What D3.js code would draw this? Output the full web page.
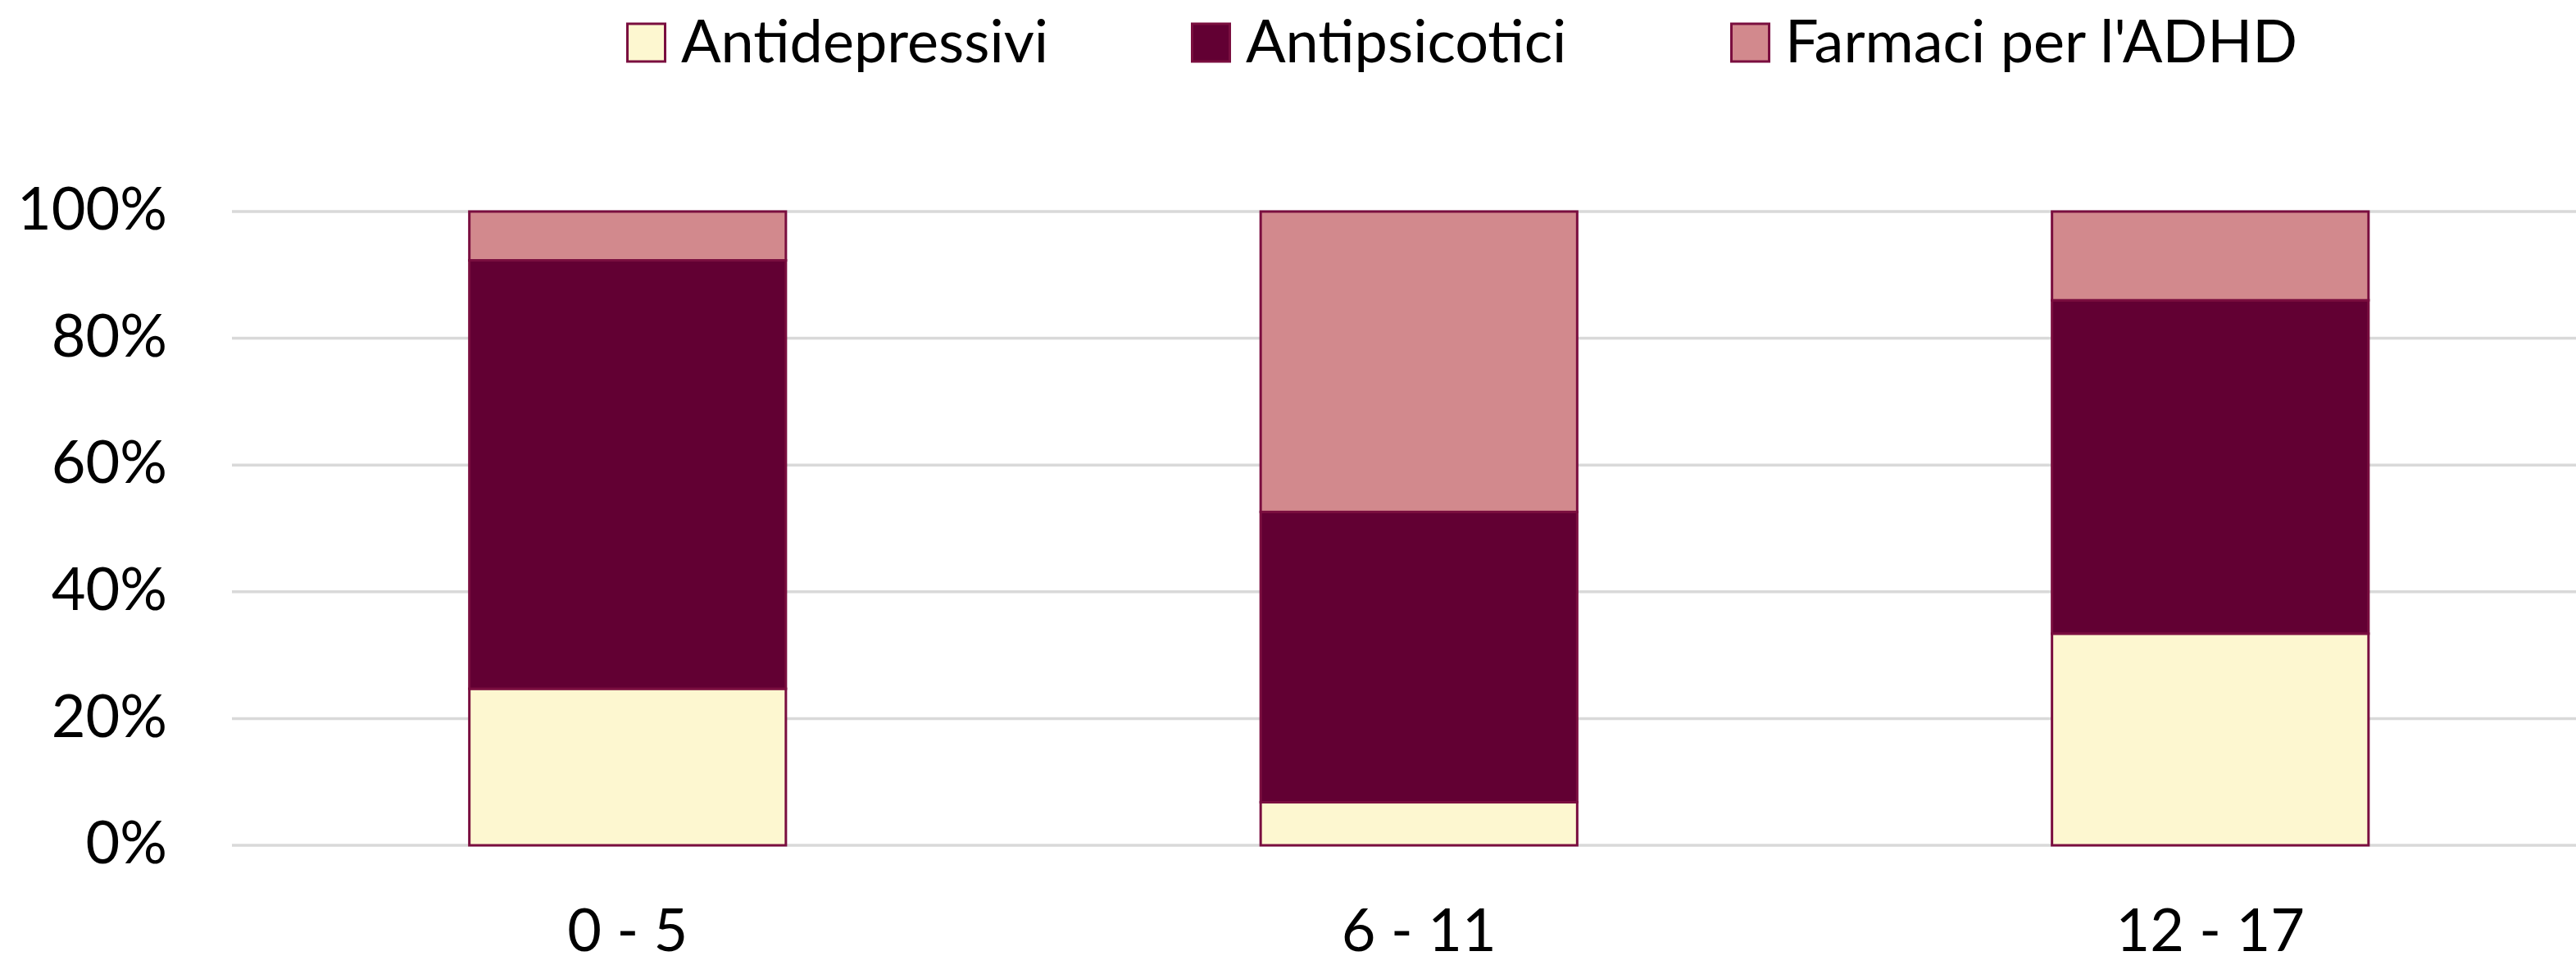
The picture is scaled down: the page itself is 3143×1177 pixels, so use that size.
<!DOCTYPE html>
<html>
<head>
<meta charset="utf-8">
<script src="https://cdn.jsdelivr.net/npm/d3@7"></script>
<style>
  body { margin: 0; background: #fff; }
  text { font-family: Lato, "Open Sans", sans-serif; fill: #000; }
</style>
</head>
<body>
<div id="chart-area"></div>
<script>
/*
*    stacked 100% bars - farmaci per fascia d'età
*/

var categories = ["0 - 5", "6 - 11", "12 - 17"];
var seriesNames = ["Antidepressivi", "Antipsicotici", "Farmaci per l'ADHD"];
var antidepressivi = [24.7, 6.8, 33.4];
var antipsicotici = [67.6, 45.8, 52.6];
var farmaciADHD = [7.7, 47.4, 14.0];
var yTicks = [0, 20, 40, 60, 80, 100];

var colors = ["#FDF7D0", "#620033", "#D2898D"];
var strokeColor = "#7A0E3F";

var width = 3143;
var height = 1177;
var margin = {top: 258, left: 283, bottom: 146};
var step = 965.5;
var plotHeight = height - margin.top - margin.bottom;

var svg = d3.select("#chart-area").append("svg").attr("width", width).attr("height", height);

// table built from the arrays for d3.stack
var table = categories.map((c, i) => {
    return {cat: c, "Antidepressivi": antidepressivi[i], "Antipsicotici": antipsicotici[i], "Farmaci per l'ADHD": farmaciADHD[i]};
});
var stacked = d3.stack().keys(seriesNames)(table);

var x = d3.scaleBand().domain(categories).range([margin.left, margin.left + step * categories.length])
            .paddingInner(0.6).paddingOuter(0.3);
var y = d3.scaleLinear().domain([0, 100]).range([margin.top + plotHeight, margin.top]);

// gridlines
svg.append("g").selectAll("line").data(yTicks).enter().append("line")
    .attr("x1", margin.left).attr("x2", width)
    .attr("y1", (d) => y(d)).attr("y2", (d) => y(d))
    .attr("stroke", "#D9D9D9").attr("stroke-width", 3.5);

// y axis labels
var yAxis = d3.axisLeft(y).tickValues(yTicks).tickSize(0).tickPadding(0).tickFormat((d) => d + "%");
svg.append("g").attr("class", "left axis").attr("transform", "translate(204, 0)").call(yAxis)
    .call((g) => g.select(".domain").remove())
    .selectAll("text").attr("font-size", "72px").attr("dy", "0.3em").attr("fill", "#000");

// bars
svg.append("g").selectAll("g").data(stacked).enter().append("g")
    .attr("fill", (d, i) => colors[i])
    .selectAll("rect").data((d) => d).enter().append("rect")
    .attr("x", (d) => x(d.data.cat))
    .attr("y", (d) => y(d[1]))
    .attr("width", x.bandwidth())
    .attr("height", (d) => y(d[0]) - y(d[1]))
    .attr("stroke", strokeColor).attr("stroke-width", 3);

// x axis labels
var xAxis = d3.axisBottom(x).tickSize(0).tickPadding(0);
svg.append("g").attr("class", "bottom axis").attr("transform", "translate(0, " + (margin.top + plotHeight) + ")").call(xAxis)
    .call((g) => g.select(".domain").remove())
    .selectAll("text").attr("font-size", "72px").attr("y", 129).attr("dy", 0).attr("fill", "#000");

// legend
var legendX = [764, 1453, 2111];
var legend = svg.append("g").selectAll("g").data(seriesNames).enter().append("g")
    .attr("transform", (d, i) => "translate(" + legendX[i] + ", 0)");
legend.append("rect").attr("x", 1.5).attr("y", 29).attr("width", 46).attr("height", 46)
    .attr("fill", (d, i) => colors[i]).attr("stroke", strokeColor).attr("stroke-width", 3);
legend.append("text").attr("x", 67).attr("y", 76).attr("font-size", "72px").text((d) => d);
</script>
</body>
</html>
